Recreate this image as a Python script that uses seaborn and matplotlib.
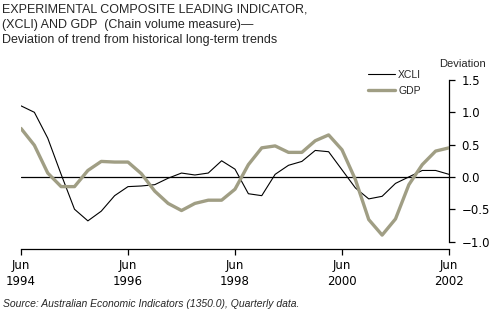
import matplotlib
matplotlib.use("Agg")
import matplotlib.pyplot as plt
import seaborn as sns
import pandas as pd
import numpy as np
from matplotlib.lines import Line2D

quarters = list(range(33))
xcli = [1.10, 1.00, 0.60, 0.04, -0.50, -0.68, -0.53, -0.29, -0.15, -0.14, -0.12,
        -0.02, 0.06, 0.03, 0.06, 0.25, 0.12, -0.26, -0.29, 0.04, 0.18, 0.24,
        0.41, 0.39, 0.11, -0.17, -0.34, -0.30, -0.10, 0.00, 0.10, 0.10, 0.04]
gdp = [0.75, 0.49, 0.06, -0.15, -0.15, 0.10, 0.24, 0.23, 0.23, 0.05, -0.22,
       -0.41, -0.52, -0.41, -0.36, -0.36, -0.19, 0.19, 0.45, 0.48, 0.38, 0.38,
       0.56, 0.65, 0.42, -0.04, -0.66, -0.90, -0.65, -0.12, 0.19, 0.40, 0.45]
tick_pos = [0, 8, 16, 24, 32]
tick_labels = ["Jun\n1994", "Jun\n1996", "Jun\n1998", "Jun\n2000", "Jun\n2002"]
y_ticks = [-1.0, -0.5, 0.0, 0.5, 1.0, 1.5]

sns.set_style("white")
plt.rcParams['font.family'] = ['Liberation Sans', 'DejaVu Sans']

df = pd.DataFrame({"q": quarters * 2,
                   "value": xcli + gdp,
                   "series": ["XCLI"] * len(xcli) + ["GDP"] * len(gdp)})

GDP_COL = "#a09e84"
fig = plt.figure(figsize=(4.96, 3.31), dpi=100)
ax = fig.add_axes([21/496, 1 - 249.3/331, (449 - 21)/496, (249.3 - 80)/331])

ax.axhline(0, color="black", lw=0.9, zorder=1)
sns.lineplot(data=df, x="q", y="value", hue="series", size="series",
             palette={"XCLI": "black", "GDP": GDP_COL},
             sizes={"XCLI": 0.8, "GDP": 2.4}, ax=ax, legend=False, zorder=3)

ax.set_xlim(0, 32)
ax.set_ylim(-1.12, 1.5)
ax.set_xticks(tick_pos)
ax.set_xticklabels(tick_labels, family="DejaVu Sans", fontsize=8.5, linespacing=1.25)
ax.yaxis.tick_right()
ax.set_yticks(y_ticks)
ax.set_yticklabels([f"{v:.1f}".replace("-", "\u2212") for v in y_ticks],
                   family="DejaVu Sans", fontsize=8.5)
ax.set_xlabel("")
ax.set_ylabel("")
for s in ["top", "left"]:
    ax.spines[s].set_visible(False)
ax.spines["right"].set_bounds(-1.0, 1.5)
for s in ["right", "bottom"]:
    ax.spines[s].set_linewidth(0.9)
    ax.spines[s].set_color("black")
ax.tick_params(axis="x", direction="out", length=4, width=0.9, pad=3, bottom=True, colors="black")
ax.tick_params(axis="y", direction="out", length=4, width=0.9, pad=5, right=True, left=False, colors="black")

handles = [Line2D([], [], color="black", lw=0.8), Line2D([], [], color=GDP_COL, lw=2.4)]
leg = ax.legend(handles, ["XCLI", "GDP"], loc="upper left", bbox_to_anchor=(345/428 - 0.005, 1.085),
                frameon=False, fontsize=7.5, handlelength=2.6, handletextpad=0.3, labelspacing=0.6,
                borderaxespad=0)

fig.text(439/496, 1 - 64/331, "Deviation", fontsize=8, ha="left", va="center")
fig.text(2/496, 1 - 4/331,
         "EXPERIMENTAL COMPOSITE LEADING INDICATOR,\n(XCLI) AND GDP  (Chain volume measure)\u2014\nDeviation of trend from historical long-term trends",
         fontsize=9, ha="left", va="top", linespacing=1.35)
fig.text(3/496, 1 - 304/331, "Source: Australian Economic Indicators (1350.0), Quarterly data.",
         fontsize=7.5, style="italic", ha="left", va="center")

fig.savefig("out.png", dpi=100)
